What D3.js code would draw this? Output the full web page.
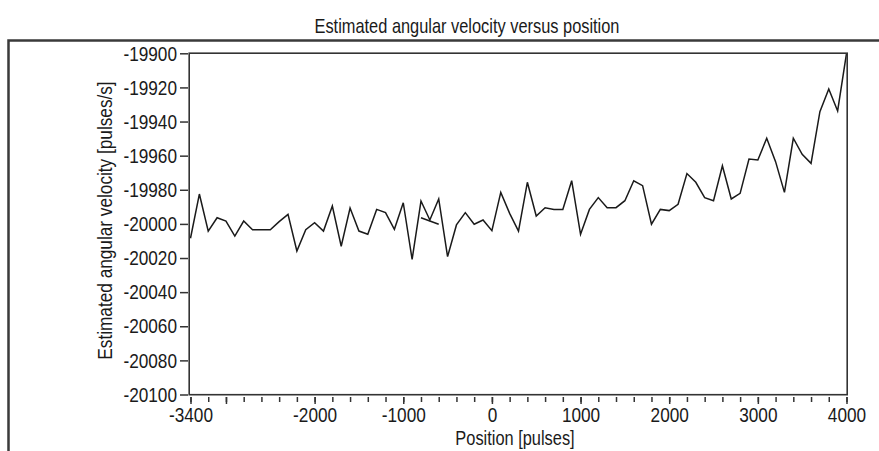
<!DOCTYPE html>
<html>
<head>
<meta charset="utf-8">
<script src="https://cdn.jsdelivr.net/npm/d3@7"></script>
<style>
  body { margin: 0; background: #fff; }
  svg { display: block; }
  text { font-family: "Liberation Sans", Arial, sans-serif; fill: #1a1a1a; }
</style>
</head>
<body>
<svg width="879" height="451"></svg>
<script>
// posizioni (ogni 100 impulsi) e velocita stimate
var posizioni = d3.range(-3400, 4001, 100);
var velocita = [
  -20008.4, -19982.5, -20004.2, -19996.4, -19998.3, -20007.1, -19998.3, -20003.4, -20003.4, -20003.4,
  -19998.7, -19994.4, -20015.9, -20003.4, -19999.3, -20004.2, -19989.5, -20013.1, -19990.7, -20004.2,
  -20006.1, -19991.5, -19993.4, -20003.2, -19987.6, -20020.8, -19986.6, -19997.7, -19985.4, -20019.2,
  -20000.6, -19993.4, -20000.2, -19997.7, -20004.0, -19981.5, -19993.8, -20004.2, -19975.6, -19995.4,
  -19990.5, -19991.5, -19991.5, -19974.7, -20006.1, -19991.5, -19984.6, -19990.5, -19990.5, -19986.4,
  -19974.7, -19977.6, -20000.2, -19991.5, -19992.2, -19988.5, -19970.5, -19975.6, -19984.6, -19986.4,
  -19965.9, -19985.4, -19982.1, -19962.0, -19962.5, -19949.8, -19963.5, -19981.5, -19949.8, -19959.2,
  -19964.5, -19934.2, -19920.9, -19933.8, -19900.0
];
// tratto sovrapposto vicino a -700
var pos_extra = [-800, -600];
var vel_extra = [-19996.4, -20000.2];

var tick_y = d3.range(-20100, -19899, 20);
var tick_x_minori = d3.range(-3400, 4001, 200);
var tick_x_maggiori = [-3400, -3000, -2000, -1000, 0, 1000, 2000, 3000, 4000];

var k = 0.82; // compressione orizzontale del testo (carattere stretto)

var svg = d3.select("svg");

// cornice esterna
svg.append("path")
  .attr("d", "M8.5,451V40.5H879")
  .attr("fill", "none")
  .attr("stroke", "#3a3a3a")
  .attr("stroke-width", 2.5);

var x = d3.scaleLinear().domain([-3400, 4000]).range([190.5, 846.5]);
var y = d3.scaleLinear().domain([-20100, -19900]).range([394.5, 53.3]);

// titolo
svg.append("text")
  .attr("x", 467 / k).attr("y", 33)
  .attr("transform", "scale(" + k + ",1)")
  .attr("text-anchor", "middle")
  .style("font-size", "20px")
  .text("Estimated angular velocity versus position");

// asse y
var asseY = svg.append("g")
  .attr("transform", "translate(188,0)")
  .call(d3.axisLeft(y).tickValues(tick_y).tickSize(8).tickPadding(3).tickFormat(function(d) { return String(d); }));
asseY.select(".domain").remove();
asseY.selectAll("line").attr("stroke", "#333").attr("stroke-width", 1.5);
asseY.selectAll("text")
  .attr("x", -11 / k)
  .attr("transform", "scale(" + k + ",1)")
  .style("font-size", "21px").style("font-family", null).attr("fill", "#1a1a1a");

// asse x: tacche minori e maggiori
var asseXmin = svg.append("g")
  .attr("transform", "translate(0,397)")
  .call(d3.axisBottom(x).tickValues(tick_x_minori).tickSize(5).tickFormat(""));
asseXmin.select(".domain").remove();
asseXmin.selectAll("line").attr("stroke", "#333").attr("stroke-width", 1.5);

var asseX = svg.append("g")
  .attr("transform", "translate(0,397)")
  .call(d3.axisBottom(x).tickValues(tick_x_maggiori).tickSize(7).tickPadding(3)
    .tickFormat(function(d) { return d === -3000 ? "" : String(d); }));
asseX.select(".domain").remove();
asseX.selectAll("line").attr("stroke", "#333").attr("stroke-width", 1.5);
asseX.selectAll("text")
  .attr("transform", "scale(" + k + ",1)")
  .style("font-size", "21px").style("font-family", null).attr("fill", "#1a1a1a");

// titoli assi
svg.append("text")
  .attr("x", 515 / k).attr("y", 445)
  .attr("transform", "scale(" + k + ",1)")
  .attr("text-anchor", "middle")
  .style("font-size", "20px")
  .text("Position [pulses]");

svg.append("text")
  .attr("transform", "translate(112,220.5) rotate(-90) scale(" + k + ",1)")
  .attr("text-anchor", "middle")
  .style("font-size", "21px")
  .text("Estimated angular velocity [pulses/s]");

// linea dati
var linea = d3.line()
  .x(function(d) { return x(d[0]); })
  .y(function(d) { return y(d[1]); });

var dati = posizioni.map(function(p, i) { return [p, velocita[i]]; });
var extra = pos_extra.map(function(p, i) { return [p, vel_extra[i]]; });

svg.append("path")
  .datum(dati)
  .attr("d", linea)
  .attr("fill", "none")
  .attr("stroke", "#1a1a1a")
  .attr("stroke-width", 1.5)
  .attr("stroke-linejoin", "miter");

svg.append("path")
  .datum(extra)
  .attr("d", linea)
  .attr("fill", "none")
  .attr("stroke", "#1a1a1a")
  .attr("stroke-width", 1.5);

// bordo area grafico
svg.append("rect")
  .attr("x", 189.2).attr("y", 53.2)
  .attr("width", 658).attr("height", 341.5)
  .attr("fill", "none")
  .attr("stroke", "#333")
  .attr("stroke-width", 1.6);
</script>
</body>
</html>
